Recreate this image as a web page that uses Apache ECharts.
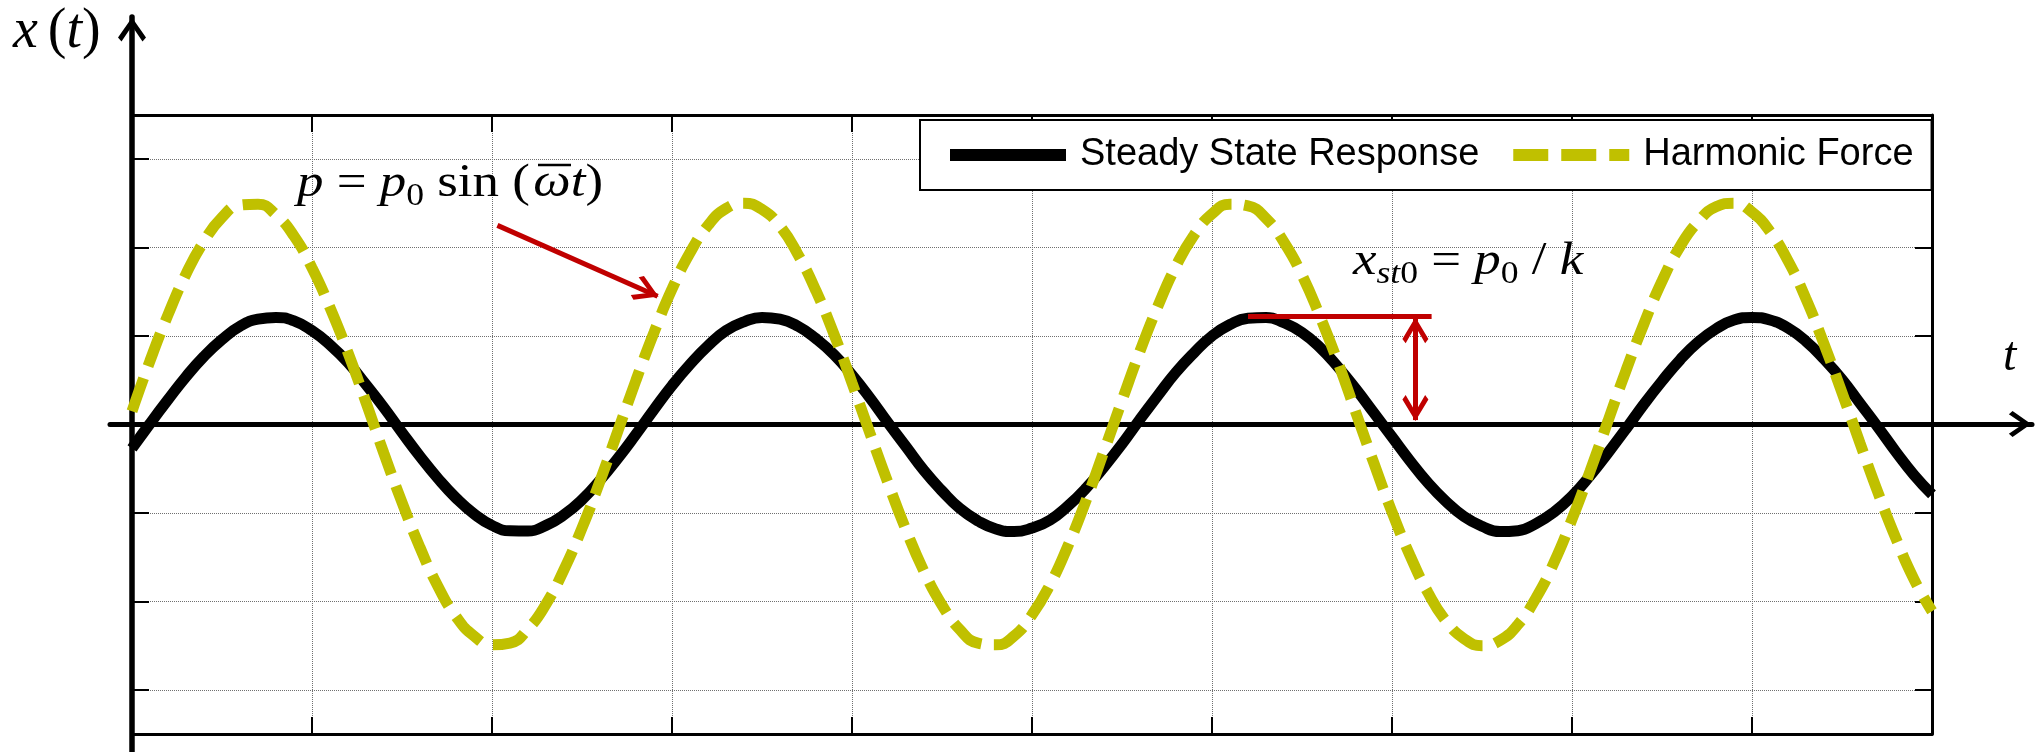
<!DOCTYPE html>
<html>
<head>
<meta charset="utf-8">
<title>Steady State Response vs Harmonic Force</title>
<script src="https://cdn.jsdelivr.net/npm/echarts@6/dist/echarts.min.js"></script>
<style>
    html, body { margin: 0; padding: 0; background: #fff; }
    #mainChart { width: 2038px; height: 752px; }
</style>
</head>
<body>
<div id="mainChart"></div>
<script>
// time samples (grid units, 10 grid cells across the plot)
var tValues = [0, 0.1, 0.2, 0.3, 0.4, 0.5, 0.6, 0.7, 0.8, 0.9,
    1, 1.1, 1.2, 1.3, 1.4, 1.5, 1.6, 1.7, 1.8, 1.9,
    2, 2.1, 2.2, 2.3, 2.4, 2.5, 2.6, 2.7, 2.8, 2.9,
    3, 3.1, 3.2, 3.3, 3.4, 3.5, 3.6, 3.7, 3.8, 3.9,
    4, 4.1, 4.2, 4.3, 4.4, 4.5, 4.6, 4.7, 4.8, 4.9,
    5, 5.1, 5.2, 5.3, 5.4, 5.5, 5.6, 5.7, 5.8, 5.9,
    6, 6.1, 6.2, 6.3, 6.4, 6.5, 6.6, 6.7, 6.8, 6.9,
    7, 7.1, 7.2, 7.3, 7.4, 7.5, 7.6, 7.7, 7.8, 7.9,
    8, 8.1, 8.2, 8.3, 8.4, 8.5, 8.6, 8.7, 8.8, 8.9,
    9, 9.1, 9.2, 9.3, 9.4, 9.5, 9.6, 9.7, 9.8, 9.9, 10];

// steady state response x(t)
var responseValues = [-0.27, 0.01, 0.28, 0.54, 0.77, 0.96, 1.11, 1.19, 1.21, 1.17,
    1.06, 0.90, 0.70, 0.45, 0.19, -0.09, -0.36, -0.61, -0.83, -1.01,
    -1.14, -1.201, -1.203, -1.14, -1.02, -0.85, -0.63, -0.38, -0.11, 0.17,
    0.44, 0.68, 0.89, 1.06, 1.16, 1.21, 1.19, 1.11, 0.97, 0.79,
    0.56, 0.30, 0.02, -0.25, -0.52, -0.75, -0.95, -1.09, -1.18, -1.21,
    -1.17, -1.08, -0.92, -0.72, -0.48, -0.22, 0.06, 0.33, 0.59, 0.81,
    1.00, 1.13, 1.20, 1.21, 1.15, 1.04, 0.87, 0.65, 0.40, 0.13,
    -0.14, -0.41, -0.66, -0.87, -1.04, -1.15, -1.21, -1.20, -1.12, -0.99,
    -0.81, -0.58, -0.32, -0.05, 0.23, 0.49, 0.73, 0.93, 1.08, 1.18,
    1.21, 1.18, 1.09, 0.94, 0.74, 0.51, 0.24, -0.03, -0.31, -0.57, -0.79];

// harmonic force p(t)
var forceValues = [0.15, 0.72, 1.24, 1.70, 2.07, 2.34, 2.48, 2.49, 2.37, 2.13,
    1.77, 1.32, 0.81, 0.25, -0.33, -0.88, -1.39, -1.83, -2.17, -2.39,
    -2.49, -2.47, -2.31, -2.03, -1.64, -1.17, -0.64, -0.07, 0.50, 1.04,
    1.53, 1.94, 2.25, 2.44, 2.50, 2.43, 2.24, 1.92, 1.51, 1.02,
    0.47, -0.10, -0.66, -1.19, -1.66, -2.04, -2.32, -2.47, -2.49, -2.39,
    -2.15, -1.81, -1.37, -0.86, -0.30, 0.27, 0.83, 1.34, 1.79, 2.14,
    2.38, 2.49, 2.47, 2.33, 2.06, 1.69, 1.22, 0.70, 0.13, -0.44,
    -0.99, -1.48, -1.90, -2.22, -2.42, -2.50, -2.44, -2.26, -1.96, -1.56,
    -1.07, -0.53, 0.04, 0.61, 1.14, 1.62, 2.01, 2.29, 2.46, 2.50,
    2.40, 2.18, 1.85, 1.42, 0.91, 0.36, -0.21, -0.77, -1.29, -1.75, -2.11];

// annotation end points (data coords)
var forceArrow = [[2.03, 2.25], [2.92, 1.45]];
var amplitudeLine = [[6.2, 1.22], [7.22, 1.22]];
var amplitudeArrow = [[7.13, 1.2], [7.13, 0.05]];

var seriesNames = ['Steady State Response', 'Harmonic Force'];

var responseData = tValues.map(function (t, i) { return [t, responseValues[i]]; });
var forceData = tValues.map(function (t, i) { return [t, forceValues[i]]; });

// open arrow head, pointing up
var chevron = 'path://M14,0 L28,20 L24.5,24 L14,8.5 L3.5,24 L0,20 Z';
var mathFont = '"Liberation Serif", "Times New Roman", serif';
var red = '#c00000';
var gridColor = '#707070';

var mathRich = {
    i: { fontFamily: mathFont, fontStyle: 'italic', fontSize: 46, lineHeight: 56, color: '#000' },
    n: { fontFamily: mathFont, fontSize: 46, lineHeight: 56, color: '#000' },
    s: { fontFamily: mathFont, fontSize: 31, lineHeight: 20, verticalAlign: 'bottom', color: '#000' },
    si: { fontFamily: mathFont, fontStyle: 'italic', fontSize: 31, lineHeight: 20, verticalAlign: 'bottom', color: '#000' }
};

var myChart = echarts.init(document.getElementById('mainChart'), null, { renderer: 'canvas' });

var hiddenBits = {
    axisLabel: { show: false },
    axisTick: { show: false },
    splitLine: { show: false }
};

function boxXAxis(pos, withGrid) {
    return {
        gridIndex: 0, type: 'value', position: pos,
        min: 0, max: 10, interval: 1,
        axisLine: { show: true, onZero: false, lineStyle: { color: '#000', width: 3 } },
        axisTick: { show: true, inside: true, length: 17, lineStyle: { color: '#000', width: 2 } },
        axisLabel: { show: false },
        splitLine: { show: withGrid, lineStyle: { color: gridColor, width: 1, type: 'dotted' } }
    };
}

function boxYAxis(pos) {
    return {
        gridIndex: 0, type: 'value', position: pos,
        min: -3.5, max: 3.5,
        axisLine: { show: true, onZero: false, lineStyle: { color: '#000', width: 3 } },
        axisTick: { show: false }, axisLabel: { show: false }, splitLine: { show: false }
    };
}

function tickYAxis(pos, withGrid) {
    return {
        gridIndex: 1, type: 'value', position: pos,
        min: -3, max: 3, interval: 1,
        axisLine: { show: false, onZero: false },
        axisTick: { show: true, inside: true, length: 17, lineStyle: { color: '#000', width: 2 } },
        axisLabel: { show: false },
        splitLine: { show: withGrid, lineStyle: { color: gridColor, width: 1, type: 'dotted' } }
    };
}

function annotation(name, pts, symbols) {
    return {
        name: name, type: 'line', xAxisIndex: 2, yAxisIndex: 2, data: [], z: 5,
        color: red,
        itemStyle: { color: red },
        markLine: {
            silent: true, animation: false,
            symbol: symbols,
            symbolSize: 26,
            symbolOffset: [[0, 12], [0, 12]],
            label: { show: false },
            emphasis: { disabled: true },
            itemStyle: { color: red },
            lineStyle: { color: red, width: 5, type: 'solid' },
            data: [[{ coord: pts[0] }, { coord: pts[1] }]]
        }
    };
}

var option = {
    animation: false,
    backgroundColor: '#fff',
    grid: [
        // frame box
        { left: 132, top: 115, width: 1800, height: 619, outerBoundsMode: 'none' },
        // plotting area (gridlines -3..3)
        { left: 132, top: 159, width: 1800, height: 531, outerBoundsMode: 'none' },
        // arrow axes x(t) / t
        { left: 110, top: 17, right: 6, bottom: 0, outerBoundsMode: 'none' }
    ],
    xAxis: [
        boxXAxis('bottom', true),
        boxXAxis('top', false),
        Object.assign({ gridIndex: 1, type: 'value', min: 0, max: 10, axisLine: { show: false, onZero: false } }, hiddenBits),
        Object.assign({
            gridIndex: 2, type: 'value', min: -22, max: 1900,
            axisLine: {
                show: true, onZero: true,
                symbol: ['none', chevron], symbolSize: [26, 24], symbolOffset: [0, -12],
                lineStyle: { color: '#000', width: 5 }
            }
        }, hiddenBits)
    ],
    yAxis: [
        boxYAxis('left'),
        boxYAxis('right'),
        tickYAxis('left', true),
        tickYAxis('right', false),
        Object.assign({
            gridIndex: 2, type: 'value', min: -328, max: 407,
            axisLine: {
                show: true, onZero: true,
                symbol: ['none', chevron], symbolSize: [28, 25], symbolOffset: [0, -12.5],
                lineStyle: { color: '#000', width: 5.5 }
            }
        }, hiddenBits)
    ],
    legend: {
        data: seriesNames,
        left: 920, top: 120,
        orient: 'horizontal',
        selectedMode: false,
        itemWidth: 116, itemHeight: 14, itemGap: 28,
        padding: [13, 18, 13, 24],
        backgroundColor: '#fff',
        borderColor: '#000', borderWidth: 2, borderRadius: 0,
        lineStyle: { width: 12 },
        textStyle: {
            fontFamily: '"Liberation Sans", Arial, sans-serif',
            fontSize: 38, color: '#000', lineHeight: 44,
            padding: [0, 0, 0, 9]
        }
    },
    series: [
        {
            name: seriesNames[0], type: 'line', xAxisIndex: 2, yAxisIndex: 2,
            data: responseData, smooth: true, symbol: 'none', showSymbol: false,
            lineStyle: { color: '#000', width: 11 }, itemStyle: { color: '#000' }, z: 3
        },
        {
            name: seriesNames[1], type: 'line', xAxisIndex: 2, yAxisIndex: 2,
            data: forceData, smooth: true, symbol: 'none', showSymbol: false,
            lineStyle: { color: '#c0c000', width: 11, type: [35, 13] }, itemStyle: { color: '#c0c000' }, z: 3
        },
        annotation('forceArrow', forceArrow, ['none', chevron]),
        annotation('amplitudeLine', amplitudeLine, ['none', 'none']),
        annotation('amplitudeArrow', amplitudeArrow, [chevron, chevron])
    ],
    graphic: [
        {
            type: 'text', x: 13, y: 32, z: 100,
            style: {
                text: '{x|x}{n|(}{i|t}{n|)}',
                rich: {
                    x: { fontFamily: mathFont, fontStyle: 'italic', fontSize: 56, lineHeight: 64, color: '#000', padding: [0, 10, 0, 0] },
                    i: { fontFamily: mathFont, fontStyle: 'italic', fontSize: 56, lineHeight: 64, color: '#000' },
                    n: { fontFamily: mathFont, fontSize: 56, lineHeight: 64, color: '#000' }
                },
                align: 'left', verticalAlign: 'middle'
            }
        },
        {
            type: 'text', x: 2003, y: 357, z: 100,
            style: {
                text: 't', fill: '#000',
                font: 'italic 48px "Liberation Serif", serif',
                align: 'left', verticalAlign: 'middle'
            }
        },
        // p = p0 sin(w t), written in three pieces so the bar sits over omega
        {
            type: 'text', x: 297, y: 184, z: 100, scaleX: 1.15,
            style: {
                text: '{i|p}{n| = }{i|p}{s|0}{n| sin (}',
                rich: mathRich,
                align: 'left', verticalAlign: 'middle'
            }
        },
        {
            type: 'text', x: 552, y: 184, z: 100, scaleX: 1.15,
            style: {
                text: '\u03c9', fill: '#000',
                font: 'italic 46px "Liberation Serif", serif',
                align: 'center', verticalAlign: 'middle'
            }
        },
        {
            type: 'line', z: 100,
            shape: { x1: 538, y1: 165, x2: 571, y2: 165 },
            style: { stroke: '#000', lineWidth: 2.5 }
        },
        {
            type: 'text', x: 603, y: 184, z: 100, scaleX: 1.15,
            style: {
                text: '{i|t}{n|)}',
                rich: mathRich,
                align: 'right', verticalAlign: 'middle'
            }
        },
        {
            type: 'text', x: 1353, y: 262, z: 100, scaleX: 1.15,
            style: {
                text: '{i|x}{si|st}{s|0}{n| = }{i|p}{s|0}{n| / }{i|k}',
                rich: mathRich,
                align: 'left', verticalAlign: 'middle'
            }
        }
    ]
};

myChart.setOption(option);
</script>
</body>
</html>
